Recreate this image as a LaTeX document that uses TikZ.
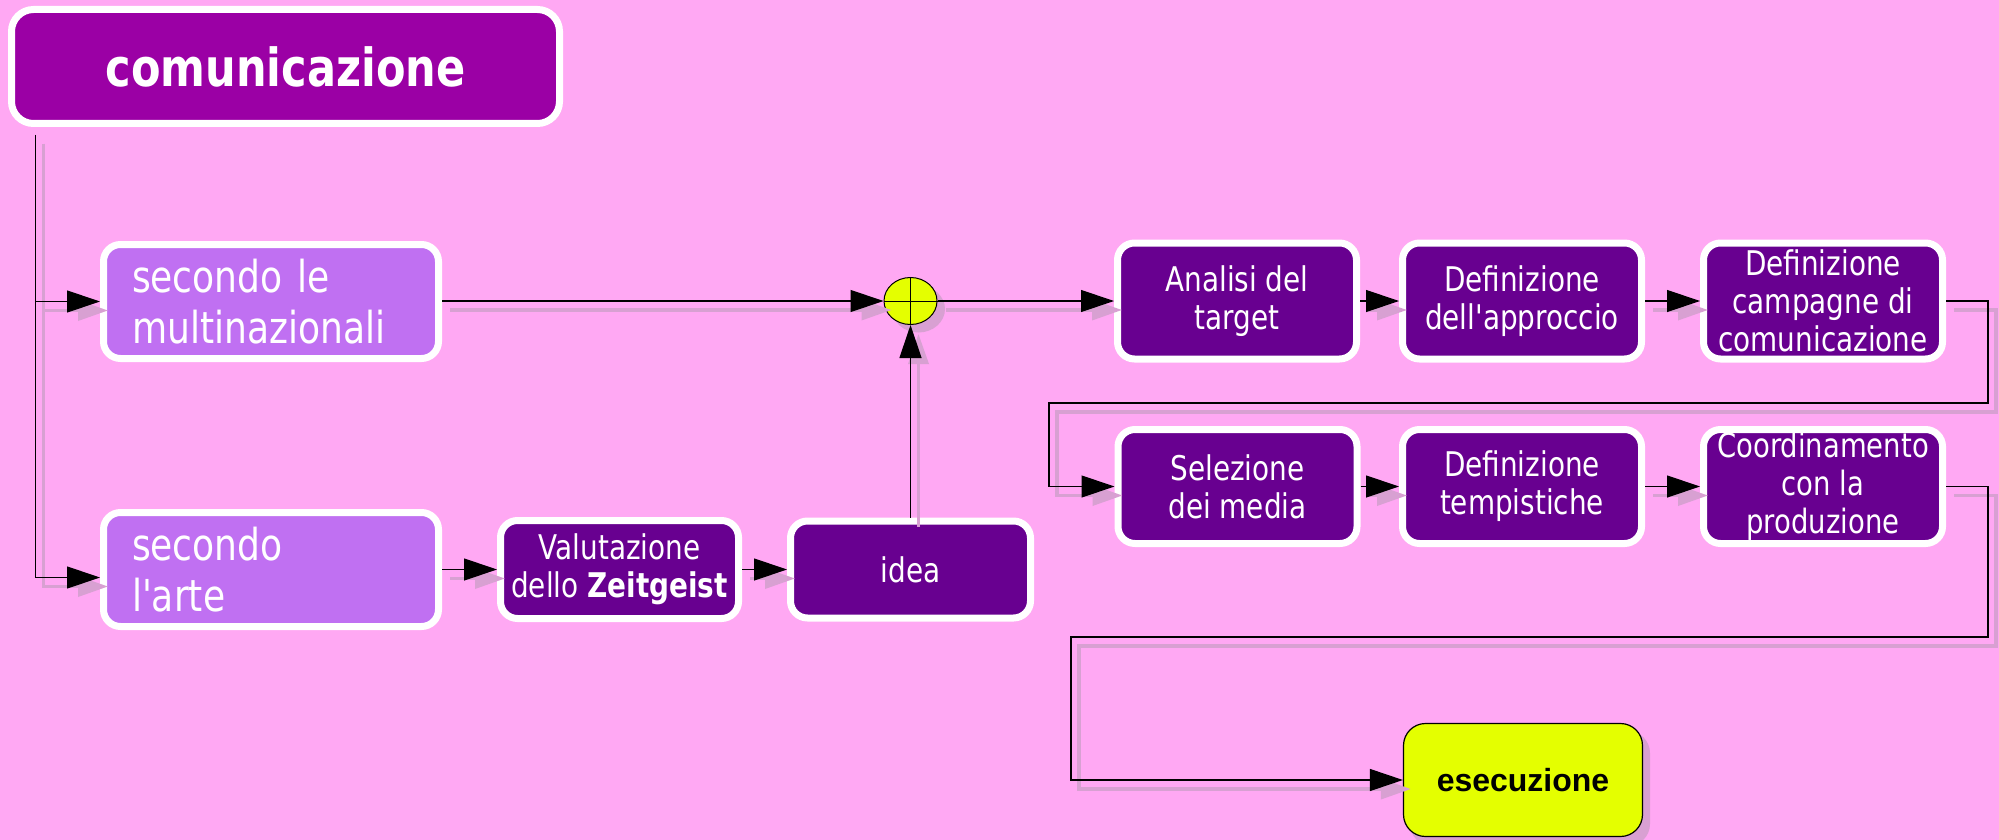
\documentclass[tikz,border=0pt]{standalone}
\usepackage{fontspec}
\usetikzlibrary{arrows.meta,shapes.geometric,calc}
\newfontfamily\tah[FakeStretch=0.82]{DejaVu Sans}
\newfontfamily\ari{Liberation Sans}
\definecolor{bg}{RGB}{255,168,243}
\definecolor{cmag}{RGB}{155,0,165}
\definecolor{lpur}{RGB}{192,112,242}
\definecolor{dpur}{RGB}{104,0,144}
\definecolor{yel}{RGB}{228,255,0}
\definecolor{shad}{RGB}{216,160,210}
\tikzset{
  wbox/.style={rectangle, rounded corners=17pt, draw=white, line width=7pt, text=white,
    inner sep=0pt, align=center, font=\tah\fontsize{34}{38}\selectfont},
  dbox/.style={wbox, fill=dpur, minimum width=239pt, minimum height=116pt},
  dboxb/.style={wbox, fill=dpur, minimum width=239pt, minimum height=114pt},
  lbox/.style={wbox, fill=lpur, minimum width=335pt, minimum height=114pt, align=left,
    text width=278pt, font=\tah\fontsize{44}{51}\selectfont},
  conn/.style={draw=black, line width=1.2pt, -{Triangle[length=33pt,width=22pt]}},
  shadline/.style={draw=shad, line width=3.5pt, -{Triangle[length=30pt,width=20pt]},
    transform canvas={shift={(8,9)}}},
}
\newcommand\shadcn[1]{\draw[shadline] #1;}
\newcommand\linecn[1]{\draw[conn] #1;}
\newcommand\drawpaths{%
  \cn{([xshift=27.5pt,yshift=-8pt]com.south west) |- (sm.west)}
  \cn{([xshift=27.5pt,yshift=-8pt]com.south west) |- ([yshift=-8pt]sa.west)}
  \cn{(sm.east |- circ.west) -- (circ.west)}
  \cn{(circ.east) -- (ana.west)}
  \cn{(idea.north) -- (circ.south)}
  \cn{(sa.east) -- (val.west)}
  \cn{(val.east) -- (idea.west)}
  \cn{(ana.east) -- (app.west)}
  \cn{(app.east) -- (camp.west)}
  \cn{(camp.east) -| (r1) -- (l1) |- (sel.west)}
  \cn{(sel.east) -- (temp.west)}
  \cn{(temp.east) -- (coord.west)}
  \cn{(coord.east) -| (r2) -- (l2) |- (ese.west)}
}
\begin{document}
\begin{tikzpicture}[x=1pt,y=-1pt]
\useasboundingbox (0,0) rectangle (1999,840);
\fill[bg] (0,0) rectangle (1999,840);

% shadows of shapes
\fill[shad] (918.5,309) ellipse [x radius=26.5pt, y radius=23.5pt];
\fill[shad, rounded corners=22pt] (1410,731) rectangle (1650,846);

% boxes
\node[wbox, fill=cmag, minimum width=548pt, minimum height=114pt, rounded corners=22pt,
  font=\tah\bfseries\fontsize{52.5}{56}\selectfont] (com) at (285.5,66.5) {comunicazione};
\node[lbox] (sm) at (271,301.5) {secondo le\\multinazionali};
\node[lbox] (sa) at (271,569.5) {secondo\\l'arte};
\node[wbox, fill=dpur, minimum width=238pt, minimum height=98pt] (val) at (619.5,569.5)
  {Valutazione\\dello {\bfseries Zeitgeist}};
\node[wbox, fill=dpur, minimum width=240pt, minimum height=97pt] (idea) at (910.5,569.5) {idea};
\node[ellipse, draw=black, line width=1pt, fill=yel, minimum width=53pt, minimum height=47pt,
  inner sep=0pt] (circ) at (910.5,301) {};
\draw[line width=1pt] (circ.north) -- (circ.south) (circ.west) -- (circ.east);

\node[dbox] (ana) at (1237,301) {Analisi del\\target};
\node[dbox] (app) at (1522,301) {Definizione\\dell'approccio};
\node[dbox] (camp) at (1823,301) {Definizione\\campagne di\\comunicazione};
\node[dboxb] (sel) at (1237.5,486.5) {Selezione\\dei media};
\node[dboxb] (temp) at (1522,486.5) {Definizione\\tempistiche};
\node[dboxb, font=\tah\fontsize{33.5}{38}\selectfont] (coord) at (1823,486.5) {Coordinamento\\con la\\produzione};

\node[rectangle, rounded corners=22pt, draw=black, line width=1.2pt, fill=yel,
  minimum width=239pt, minimum height=113pt,
  font=\ari\bfseries\fontsize{32}{38}\selectfont] (ese) at (1523,780) {esecuzione};

\coordinate (r1) at (1988,403);
\coordinate (l1) at (1049,403);
\coordinate (r2) at (1988,637);
\coordinate (l2) at (1071,637);

\let\cn\shadcn \drawpaths
\let\cn\linecn \drawpaths
\end{tikzpicture}
\end{document}
